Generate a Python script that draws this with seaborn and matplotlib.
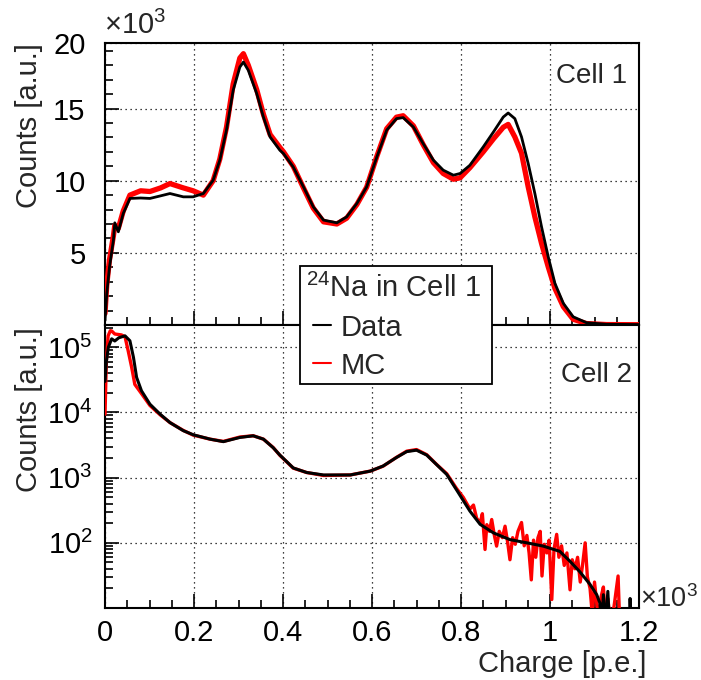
import numpy as np
import pandas as pd
import matplotlib
matplotlib.use("Agg")
import matplotlib.pyplot as plt
import seaborn as sns
from matplotlib.ticker import MultipleLocator, FixedLocator, LogLocator, NullFormatter, FuncFormatter
from matplotlib.patches import Rectangle
from matplotlib.lines import Line2D

# ---------------- data ----------------
# Cell 1 (top, linear) : charge in p.e.
top_x = [0, 4, 10, 19, 22, 30, 41, 56, 80, 101, 125, 146, 176, 198, 221, 243, 258, 273, 288, 303,
         311, 322, 341, 356, 371, 393, 401, 423, 446, 468, 491, 521, 543, 566, 588, 611, 633, 655, 670, 693,
         715, 738, 760, 783, 798, 820, 850, 873, 895, 906, 921, 936, 951, 966, 981, 996, 1011, 1030, 1052, 1082,
         1127, 1200]
top_data = [300, 2200, 4000, 5900, 7080, 6460, 7730, 8770, 8800, 8770, 8950, 9110, 8880, 8880, 9110, 10030, 11420, 13500, 16260, 17870,
            18220, 17650, 16030, 14410, 13030, 12110, 11880, 10950, 9570, 8190, 7270, 7080, 7490, 8420, 9570, 11650, 13500, 14300, 14370, 13720,
            12570, 11420, 10730, 10380, 10500, 11070, 12340, 13380, 14410, 14690, 14300, 13030, 11190, 9110, 6800, 4730, 2890, 1500, 570, 160,
            50, 30]
top_mc = [800, 2800, 4500, 6200, 6900, 6700, 7900, 9000, 9300, 9250, 9500, 9800, 9500, 9300, 9000, 10000, 11500, 13700, 16700, 18500,
          18800, 18000, 16300, 14600, 13200, 12300, 12000, 11000, 9500, 8100, 7150, 7000, 7400, 8350, 9550, 11700, 13600, 14400, 14500, 13800,
          12500, 11250, 10500, 10100, 10200, 10900, 12000, 12900, 13700, 13900, 13030, 11900, 9570, 7490, 5650, 4030, 2540, 1270, 400, 100,
          30, 20]

# Cell 2 (bottom, log)
bot_x = [0, 3, 7.5, 15, 22, 31, 45, 56, 64, 71, 82, 101, 124, 146, 176, 198, 236, 266, 303, 333,
         356, 378, 393, 423, 453, 491, 551, 596, 625, 655, 678, 700, 723, 745, 768, 790, 820, 843, 873, 910,
         948, 985, 1022, 1045, 1067, 1090, 1105, 1112, 1116, 1120, 1124, 1130, 1134, 1178, 1180, 1183]
bot_data = [30000, 60000, 100000, 135000, 125000, 140000, 150000, 126000, 70000, 34600, 21500, 13400, 9400, 7000, 5260, 4560, 3900, 3570, 4140, 4390,
            3900, 2880, 2220, 1410, 1200, 1100, 1100, 1260, 1510, 2040, 2510, 2640, 2220, 1590, 1120, 650, 307, 192, 142, 112,
            100, 89, 74, 52, 36, 23, 16, 12, 5, 16, 5, 18, 5, 5, 14, 5]
bot_mc_x = [0, 3, 7, 12, 15, 22, 37, 45, 52, 60, 67, 82, 101, 124, 146, 176, 198, 236, 266, 303,
            333, 356, 378, 393, 423, 453, 491, 551, 596, 625, 655, 678, 700, 723, 745, 768, 790, 805, 820, 828,
            835, 843, 848, 854, 858, 864, 869, 875, 880, 886, 893, 899, 905, 910, 916, 922, 928, 936, 942, 948,
            953, 958, 963, 968, 973, 978, 982, 987, 993, 998, 1004, 1009, 1015, 1020, 1026, 1032, 1038, 1045, 1050, 1056,
            1062, 1068, 1073, 1079, 1084, 1090, 1095, 1100, 1105, 1110, 1115, 1120, 1125, 1130, 1137, 1145, 1153, 1157, 1165]
bot_mc = [9400, 60000, 150000, 180000, 178000, 160000, 155000, 145000, 89000, 49000, 27000, 19500, 12800, 9200, 7000, 5300, 4500, 3900, 3600, 4200,
          4400, 3900, 2900, 2200, 1400, 1200, 1080, 1100, 1260, 1500, 2050, 2550, 2700, 2250, 1600, 1150, 680, 500, 330, 380,
          240, 200, 280, 79, 190, 150, 228, 130, 89, 150, 120, 180, 100, 55, 120, 95, 150, 205, 90, 130,
          70, 27, 110, 60, 120, 150, 31, 95, 70, 110, 13.5, 80, 135, 60, 90, 45, 70, 19, 55, 40,
          60, 25, 45, 100, 30, 20, 8, 25, 12, 6, 15, 21, 6, 14, 5, 12, 31, 5, 5]

x_ticks = [0, 200, 400, 600, 800, 1000, 1200]
top_yticks = [5000, 10000, 15000, 19540]
top_ylabels = ["5", "10", "15", "20"]
bot_yticks = [1e2, 1e3, 1e4, 1e5]
bot_ylabels = ["$10^{2}$", "$10^{3}$", "$10^{4}$", "$10^{5}$"]

# ---------------- style ----------------
sns.set_theme(style="white")
plt.rcParams["font.family"] = ["Liberation Sans", "DejaVu Sans"]
plt.rcParams["mathtext.default"] = "regular"
FS = 21

W, H = 701, 680
fig = plt.figure(figsize=(W / 100, H / 100), dpi=100)
fig.patch.set_facecolor("white")


def fx(p):
    return p / W


def fy(p):
    return 1 - p / H


L, R = 105, 639
ax1 = fig.add_axes([fx(L), fy(325), fx(R) - fx(L), fy(43) - fy(325)])
ax2 = fig.add_axes([fx(L), fy(608), fx(R) - fx(L), fy(325) - fy(608)])

top_df = pd.DataFrame({"charge": top_x, "Data": top_data, "MC": top_mc})
bot_df = pd.DataFrame({"charge": bot_x, "Data": bot_data})
bot_mc_df = pd.DataFrame({"charge": bot_mc_x, "MC": bot_mc})

sns.lineplot(data=top_df, x="charge", y="MC", ax=ax1, color="#ff0000", lw=3.8,
             estimator=None, sort=False, zorder=3)
sns.lineplot(data=top_df, x="charge", y="Data", ax=ax1, color="black", lw=2.0,
             estimator=None, sort=False, zorder=4)

ax2.set_yscale("log")
sns.lineplot(data=bot_mc_df, x="charge", y="MC", ax=ax2, color="#ff0000", lw=2.4,
             estimator=None, sort=False, zorder=3)
sns.lineplot(data=bot_df, x="charge", y="Data", ax=ax2, color="black", lw=2.2,
             estimator=None, sort=False, zorder=4)

grid_kw = dict(color="black", linestyle=(0, (1, 3)), linewidth=0.9)
for ax in (ax1, ax2):
    ax.set_xlim(0, 1200)
    ax.set_xlabel("")
    ax.set_ylabel("")
    ax.set_facecolor("white")
    ax.set_axisbelow(True)
    ax.xaxis.set_major_locator(FixedLocator(x_ticks))
    ax.xaxis.set_minor_locator(MultipleLocator(50))
    ax.grid(True, which="major", **grid_kw)
    for s in ax.spines.values():
        s.set_visible(True)
        s.set_color("black")
        s.set_linewidth(1.5)
    ax.tick_params(which="both", direction="in", left=True, bottom=True, top=False, right=False,
                   color="black", labelsize=FS, labelcolor="black")
    ax.tick_params(which="major", length=10, width=1.2)
    ax.tick_params(which="minor", length=5.5, width=1.2)

ax1.set_ylim(0, 19540)
ax1.yaxis.set_major_locator(FixedLocator(top_yticks))
ax1.set_yticklabels(top_ylabels)
ax1.yaxis.set_minor_locator(MultipleLocator(1000))
ax1.tick_params(labelbottom=False)
ax1.tick_params(axis="y", which="major", pad=14)

ax2.set_ylim(10, 2.2e5)
ax2.yaxis.set_major_locator(FixedLocator(bot_yticks))
ax2.set_yticklabels(bot_ylabels)
ax2.yaxis.set_minor_locator(LogLocator(base=10, subs=range(2, 10), numticks=20))
ax2.yaxis.set_minor_formatter(NullFormatter())
ax2.xaxis.set_major_formatter(FuncFormatter(lambda v, p: "%g" % (v / 1000)))
ax2.tick_params(axis="y", which="major", pad=9)
ax2.tick_params(axis="x", which="major", pad=8)

# ---------------- texts ----------------
fig.text(fx(104), fy(34), "×10$^{3}$", fontsize=FS, ha="left", va="baseline")
fig.text(fx(640), fy(607), "×10$^{3}$", fontsize=19.5, ha="left", va="baseline")
fig.text(fx(627), fy(83), "Cell 1", fontsize=20, ha="right", va="baseline")
fig.text(fx(632), fy(382), "Cell 2", fontsize=20, ha="right", va="baseline")
fig.text(fx(647), fy(672), "Charge [p.e.]", fontsize=FS, ha="right", va="baseline")
fig.text(fx(29), fy(43), "Counts [a.u.]", fontsize=FS, rotation=90, ha="center", va="top")
fig.text(fx(29), fy(327), "Counts [a.u.]", fontsize=FS, rotation=90, ha="center", va="top")

# ---------------- legend ----------------
fig.add_artist(Rectangle((fx(300), fy(384)), fx(492) - fx(300), fy(266) - fy(384),
                         transform=fig.transFigure, facecolor="white", edgecolor="black",
                         lw=1.3, zorder=10))
fig.text(fx(306), fy(297), "$^{24}$Na in Cell 1", fontsize=FS, ha="left", va="baseline", zorder=11)
fig.add_artist(Line2D([fx(313), fx(331)], [fy(325), fy(325)], transform=fig.transFigure,
                      color="black", lw=1.5, zorder=11))
fig.text(fx(341), fy(336), "Data", fontsize=FS, ha="left", va="baseline", zorder=11)
fig.add_artist(Line2D([fx(313), fx(331)], [fy(363), fy(363)], transform=fig.transFigure,
                      color="#ff0000", lw=1.5, zorder=11))
fig.text(fx(341), fy(374), "MC", fontsize=FS, ha="left", va="baseline", zorder=11)

fig.savefig("out.png", dpi=100, facecolor="white")
